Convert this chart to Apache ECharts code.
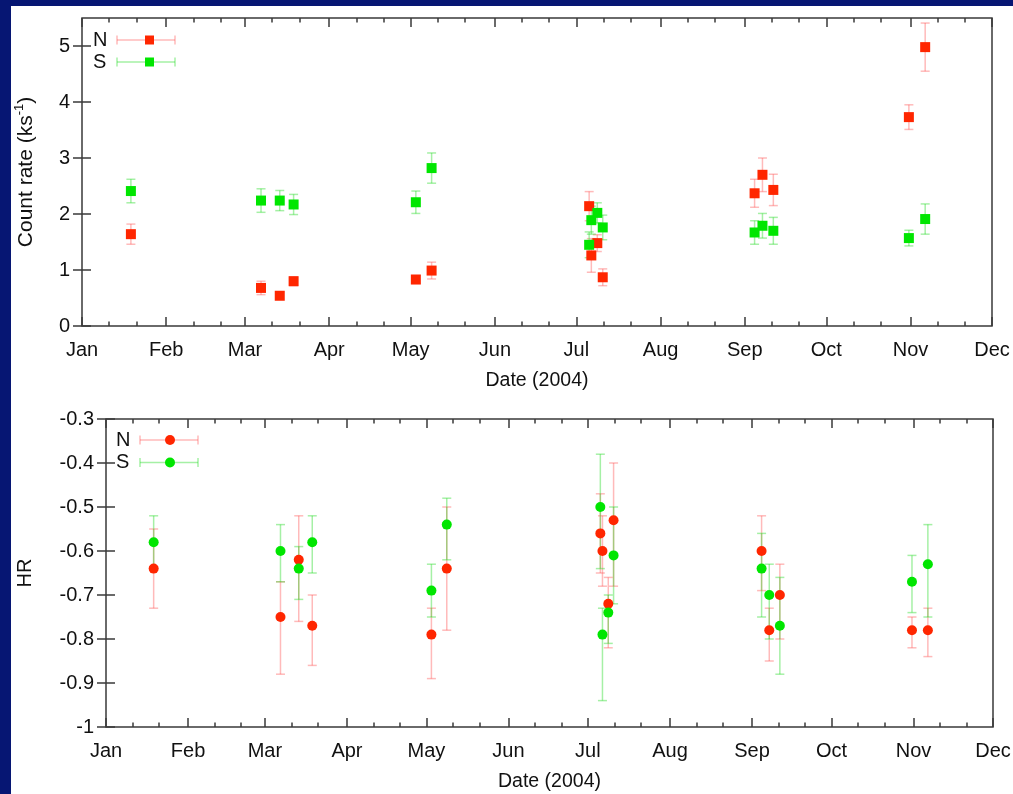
<!DOCTYPE html>
<html>
<head>
<meta charset="utf-8">
<script src="https://cdn.jsdelivr.net/npm/echarts@6/dist/echarts.min.js"></script>
<style>
  html, body { margin: 0; padding: 0; background: #061673; width: 1013px; height: 794px; overflow: hidden; }
  #chart { position: absolute; left: 11px; top: 6px; width: 1002px; height: 788px; background: #ffffff; }
</style>
</head>
<body>
<div id="chart"></div>
<script>
// Observation dates, as days since 2004-01-01
const obsDays = [18, 65.9, 72.8, 77.9, 122.9, 128.7, 186.7, 187.5, 189.7, 191.7, 247.6, 250.5, 254.5, 304.4, 310.4];

// Count rates (ks^-1) with symmetric errors
const rateN    = [1.64, 0.68, 0.54, 0.80, 0.83, 0.99, 2.14, 1.26, 1.48, 0.87, 2.37, 2.70, 2.43, 3.73, 4.98];
const rateNErr = [0.18, 0.12, 0.06, 0.08, 0.07, 0.15, 0.26, 0.30, 0.15, 0.15, 0.25, 0.30, 0.28, 0.22, 0.43];
const rateS    = [2.41, 2.24, 2.24, 2.17, 2.21, 2.82, 1.45, 1.89, 2.02, 1.76, 1.67, 1.79, 1.70, 1.57, 1.91];
const rateSErr = [0.21, 0.21, 0.18, 0.18, 0.20, 0.27, 0.23, 0.25, 0.18, 0.22, 0.21, 0.22, 0.24, 0.14, 0.27];

// Hardness ratios with lower / upper bounds
const hrN   = [-0.64, -0.75, -0.62, -0.77, -0.79, -0.64, -0.56, -0.60, -0.72, -0.53, -0.60, -0.78, -0.70, -0.78, -0.78];
const hrNLo = [-0.73, -0.88, -0.76, -0.86, -0.89, -0.78, -0.65, -0.68, -0.82, -0.68, -0.69, -0.85, -0.80, -0.82, -0.84];
const hrNHi = [-0.55, -0.67, -0.52, -0.70, -0.73, -0.50, -0.47, -0.52, -0.66, -0.40, -0.52, -0.73, -0.63, -0.75, -0.73];
const hrS   = [-0.58, -0.60, -0.64, -0.58, -0.69, -0.54, -0.50, -0.79, -0.74, -0.61, -0.64, -0.70, -0.77, -0.67, -0.63];
const hrSLo = [-0.64, -0.67, -0.71, -0.65, -0.75, -0.62, -0.64, -0.94, -0.81, -0.72, -0.75, -0.80, -0.88, -0.74, -0.75];
const hrSHi = [-0.52, -0.54, -0.59, -0.52, -0.63, -0.48, -0.38, -0.73, -0.70, -0.50, -0.56, -0.63, -0.66, -0.61, -0.54];

// Axis ticks
const monthNames  = ['Jan', 'Feb', 'Mar', 'Apr', 'May', 'Jun', 'Jul', 'Aug', 'Sep', 'Oct', 'Nov', 'Dec'];
const monthStarts = [0, 31, 60, 91, 121, 152, 182, 213, 244, 274, 305, 335];
const rateTicks   = [0, 1, 2, 3, 4, 5];
const hrTicks     = [-1, -0.9, -0.8, -0.7, -0.6, -0.5, -0.4, -0.3];

// Minor ticks fall on the 11th and 21st of each month
const minorDays = [];
monthStarts.slice(0, -1).forEach(d => { minorDays.push(d + 10, d + 20); });

const FONT = "'Liberation Sans', Arial, Helvetica, sans-serif";
const TXT = '#111111';
const AXIS = '#3a3a3a';
const RED = '#ff2600';
const GREEN = '#00e600';
const RED_BAR = 'rgba(255, 90, 90, 0.42)';
const GREEN_BAR = 'rgba(40, 220, 40, 0.42)';

const grids = [
  { left: 71, top: 12, width: 910, height: 308 },
  { left: 95, top: 413, width: 887, height: 308 }
];

function dayAxis(gridIndex, position, ticks, len, withLabels) {
  return {
    type: 'value', gridIndex, position, min: 0, max: 335,
    axisLine: { show: false },
    splitLine: { show: false },
    axisTick: { show: true, inside: true, length: len, customValues: ticks,
                lineStyle: { color: AXIS, width: 1.5 } },
    axisLabel: withLabels ? {
      show: true, customValues: monthStarts, margin: 14,
      fontSize: 20, fontFamily: FONT, color: TXT,
      formatter: v => monthNames[monthStarts.indexOf(Math.round(v))] || ''
    } : { show: false },
    name: withLabels ? 'Date (2004)' : '',
    nameLocation: 'middle', nameGap: 45,
    nameTextStyle: { fontSize: 19.5, fontFamily: FONT, color: TXT }
  };
}

function valueAxis(gridIndex, position, min, max, ticks, labelOpts, nameOpts) {
  return Object.assign({
    type: 'value', gridIndex, position, min, max,
    axisLine: { show: false },
    splitLine: { show: false },
    axisTick: { show: true, inside: true, length: 9, customValues: ticks,
                lineStyle: { color: AXIS, width: 1.5 } },
    axisLabel: labelOpts ? Object.assign({
      show: true, customValues: ticks, margin: 12,
      fontSize: 20, fontFamily: FONT, color: TXT
    }, labelOpts) : { show: false }
  }, nameOpts || {});
}

const xAxes = [];
const yAxes = [];
[0, 1].forEach(g => {
  xAxes.push(dayAxis(g, 'bottom', monthStarts, 9, true));
  xAxes.push(dayAxis(g, 'bottom', minorDays, 4.5, false));
  xAxes.push(dayAxis(g, 'top', monthStarts, 9, false));
  xAxes.push(dayAxis(g, 'top', minorDays, 4.5, false));
});
yAxes.push(valueAxis(0, 'left', 0, 5.5, rateTicks,
  { formatter: v => String(Math.round(v)) },
  { name: 'Count rate (ks{sup|-1})', nameLocation: 'middle', nameGap: 43, nameRotate: 90,
    nameTextStyle: { fontSize: 21, fontFamily: FONT, color: TXT,
      rich: { sup: { fontSize: 13, fontFamily: FONT, color: TXT, padding: [0, 0, 13, 0] } } } }));
yAxes.push(valueAxis(0, 'right', 0, 5.5, rateTicks, null));
yAxes.push(valueAxis(1, 'left', -1, -0.3, hrTicks,
  { formatter: v => (Math.abs(v + 1) < 1e-9 ? '-1' : v.toFixed(1)) },
  { name: 'HR', nameLocation: 'middle', nameGap: 71, nameRotate: 90,
    nameTextStyle: { fontSize: 20, fontFamily: FONT, color: TXT } }));
yAxes.push(valueAxis(1, 'right', -1, -0.3, hrTicks, null));

// Vertical error bar with short caps
function errorBar(params, api) {
  const x = api.value(0);
  const p1 = api.coord([x, api.value(1)]);
  const p2 = api.coord([x, api.value(2)]);
  const c = api.visual('color');
  const w = 4.5;
  const st = { stroke: c, lineWidth: 1.5 };
  return {
    type: 'group',
    children: [
      { type: 'line', shape: { x1: p1[0], y1: p1[1], x2: p2[0], y2: p2[1] }, style: st },
      { type: 'line', shape: { x1: p1[0] - w, y1: p1[1], x2: p1[0] + w, y2: p1[1] }, style: st },
      { type: 'line', shape: { x1: p2[0] - w, y1: p2[1], x2: p2[0] + w, y2: p2[1] }, style: st }
    ]
  };
}

const rateNBars = obsDays.map((d, i) => [d, rateN[i] - rateNErr[i], rateN[i] + rateNErr[i]]);
const rateSBars = obsDays.map((d, i) => [d, rateS[i] - rateSErr[i], rateS[i] + rateSErr[i]]);
const hrNBars = obsDays.map((d, i) => [d, hrNLo[i], hrNHi[i]]);
const hrSBars = obsDays.map((d, i) => [d, hrSLo[i], hrSHi[i]]);
const pts = (vals) => obsDays.map((d, i) => [d, vals[i]]);

function bars(name, data, color, xi, yi) {
  return { type: 'custom', name, xAxisIndex: xi, yAxisIndex: yi, renderItem: errorBar,
           itemStyle: { color }, encode: { x: 0, y: [1, 2] }, data, silent: true, z: 2 };
}
function points(name, data, color, symbol, xi, yi) {
  return { type: 'scatter', name, xAxisIndex: xi, yAxisIndex: yi, symbol, symbolSize: 10,
           itemStyle: { color, opacity: 1 }, data, silent: true, z: 3 };
}

const series = [
  bars('N', rateNBars, RED_BAR, 0, 0),
  points('N', pts(rateN), RED, 'rect', 0, 0),
  bars('S', rateSBars, GREEN_BAR, 0, 0),
  points('S', pts(rateS), GREEN, 'rect', 0, 0),
  bars('N', hrNBars, RED_BAR, 4, 2),
  points('N', pts(hrN), RED, 'circle', 4, 2),
  bars('S', hrSBars, GREEN_BAR, 4, 2),
  points('S', pts(hrS), GREEN, 'circle', 4, 2)
];

// Key entries: label, sample error bar and marker
function keyEntry(label, x, y, barColor, color, shape) {
  const st = { stroke: barColor, lineWidth: 1.5 };
  const marker = shape === 'rect'
    ? { type: 'rect', shape: { x: x + 52, y: y - 4.5, width: 9, height: 9 }, style: { fill: color } }
    : { type: 'circle', shape: { cx: x + 54, cy: y, r: 5 }, style: { fill: color } };
  return [
    { type: 'text', x: x, y: y, style: { text: label, font: '20px ' + FONT, fill: TXT,
      textAlign: 'left', textVerticalAlign: 'middle' } },
    { type: 'line', shape: { x1: x + 24, y1: y, x2: x + 82, y2: y }, style: st },
    { type: 'line', shape: { x1: x + 24, y1: y - 4.5, x2: x + 24, y2: y + 4.5 }, style: st },
    { type: 'line', shape: { x1: x + 82, y1: y - 4.5, x2: x + 82, y2: y + 4.5 }, style: st },
    marker
  ];
}

const graphic = [].concat(
  keyEntry('N', 82, 34, RED_BAR, RED, 'rect'),
  keyEntry('S', 82, 56, GREEN_BAR, GREEN, 'rect'),
  keyEntry('N', 105, 434, RED_BAR, RED, 'circle'),
  keyEntry('S', 105, 456.5, GREEN_BAR, GREEN, 'circle')
);

const chart = echarts.init(document.getElementById('chart'), null, { renderer: 'canvas' });
chart.setOption({
  animation: false,
  backgroundColor: '#ffffff',
  grid: grids.map(g => Object.assign({ show: true, borderColor: AXIS, borderWidth: 1.5,
                                       backgroundColor: 'transparent',
                                       containLabel: false, outerBoundsMode: 'none' }, g)),
  xAxis: xAxes,
  yAxis: yAxes,
  series,
  graphic
});
</script>
</body>
</html>
